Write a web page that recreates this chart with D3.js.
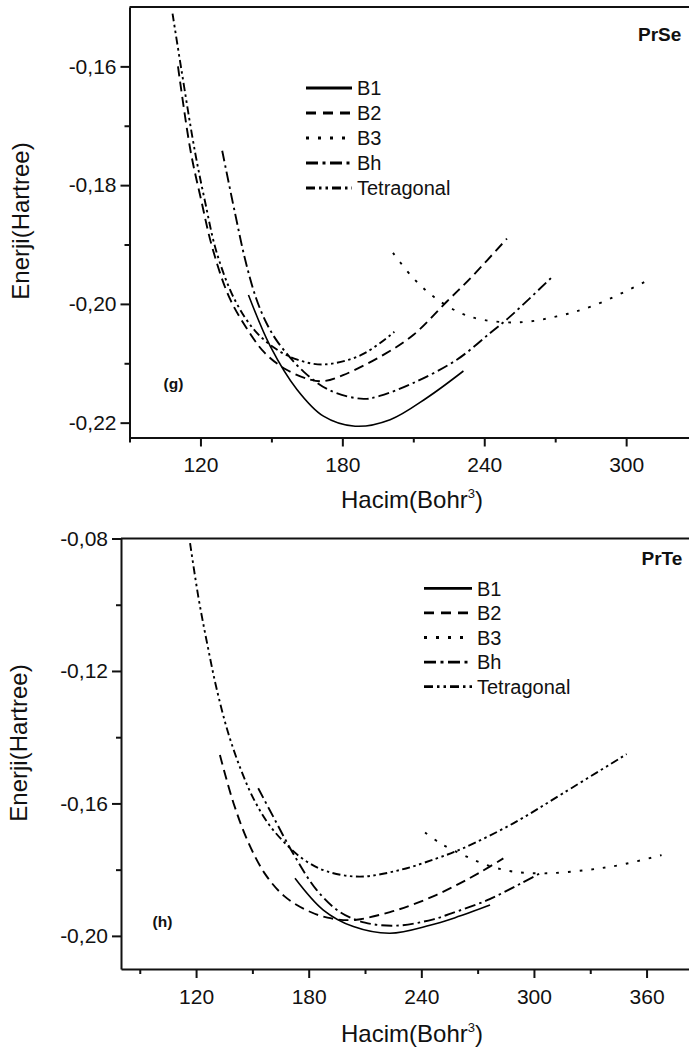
<!DOCTYPE html>
<html>
<head>
<meta charset="utf-8">
<script src="https://cdn.jsdelivr.net/npm/d3@7"></script>
<style>
  body { margin: 0; background: #fff; }
  svg { display: block; }
</style>
</head>
<body>
<svg id="chart" width="689" height="1055"></svg>
<script>
// series, same order in both panels
const seriesNames = ["B1", "B2", "B3", "Bh", "Tetragonal"];

// PrSe: [volume (Bohr^3), energy (Hartree)]
const prSeB1 = [[140.3, -0.1985], [149.5, -0.2071], [160.8, -0.2144], [172, -0.2189], [185.4, -0.2206],
  [200.2, -0.2195], [215.8, -0.2158], [231.2, -0.2113]];
const prSeB2 = [[110.5, -0.1600], [115.8, -0.1742], [120.3, -0.1825], [125, -0.1905], [132.3, -0.1990],
  [141, -0.2050], [147.3, -0.2083], [156, -0.2110], [166, -0.2127], [172, -0.2130], [180.3, -0.2120],
  [197.7, -0.2085], [210.1, -0.2052], [224.2, -0.1996], [234.1, -0.1957], [249.6, -0.1890]];
const prSeB3 = [[201.4, -0.1914], [210.1, -0.1957], [219.3, -0.1990], [229.8, -0.2015], [239.7, -0.2027],
  [255.2, -0.2031], [270.7, -0.2021], [286.2, -0.2003], [310.9, -0.1957]];
const prSeBh = [[129.2, -0.1742], [134.5, -0.1845], [139, -0.1927], [143.5, -0.1990], [148, -0.2033],
  [153, -0.2066], [163.6, -0.2114], [174.9, -0.2146], [189, -0.2160], [195.8, -0.2155], [210.1, -0.2133],
  [228.4, -0.2094], [242.5, -0.2049], [251, -0.2021], [268.6, -0.1955]];
const prSeTet = [[108.2, -0.1511], [112, -0.1607], [117.6, -0.1742], [121.8, -0.1825], [126.9, -0.1914],
  [134.5, -0.1993], [143, -0.2045], [152, -0.2076], [161, -0.2094], [171.9, -0.2102], [188, -0.2086],
  [202, -0.2047]];

const prSeXTicks = [120, 180, 240, 300];
const prSeXMinor = [90, 150, 210, 270, 330];
const prSeYTicks = [-0.22, -0.20, -0.18, -0.16];
const prSeYMinor = [-0.21, -0.19, -0.17];

// PrTe
const prTeB1 = [[172.7, -0.1826], [187.8, -0.1922], [203.8, -0.1972], [223.3, -0.1992], [244.6, -0.1968],
  [258, -0.1945], [276.6, -0.1907]];
const prTeB2 = [[132.7, -0.1454], [140, -0.1600], [148, -0.1720], [157, -0.1815], [167, -0.1880],
  [178, -0.1920], [190, -0.1945], [203.8, -0.1952], [223.3, -0.1928], [235.7, -0.1905], [248.2, -0.1876],
  [260, -0.1843], [271.3, -0.1808], [283.7, -0.1766]];
const prTeB3 = [[242, -0.1688], [250, -0.1720], [262.4, -0.1756], [274.8, -0.1786], [289, -0.1806],
  [306.8, -0.1811], [328.1, -0.1801], [345.8, -0.1786], [368, -0.1756]];
const prTeBh = [[153.1, -0.1554], [161.1, -0.1640], [171.8, -0.1752], [184.2, -0.1861], [196.7, -0.1928],
  [210, -0.1960], [226.9, -0.1969], [246.4, -0.1950], [256, -0.1932], [274.8, -0.1893], [292.6, -0.1843],
  [303.2, -0.1811]];
const prTeTet = [[116.8, -0.0814], [121.2, -0.0976], [126, -0.1120], [131, -0.1255], [137, -0.1385],
  [144, -0.1500], [151, -0.1590], [159, -0.1665], [168.3, -0.1725], [178, -0.1772], [189.6, -0.1805],
  [207.3, -0.1821], [228.6, -0.1801], [248.2, -0.1766], [262.4, -0.1735], [289, -0.1660], [315.6, -0.1569],
  [349.4, -0.1451]];

const prTeXTicks = [120, 180, 240, 300, 360];
const prTeXMinor = [90, 150, 210, 270, 330];
const prTeYTicks = [-0.20, -0.16, -0.12, -0.08];
const prTeYMinor = [-0.18, -0.14, -0.10];

// line styles
const curveDash = { B1: null, B2: "10,5.5", B3: "2.7,9", Bh: "11,4,2.5,4", Tetragonal: "8,3.5,2.5,3.5,2.5,3.5" };
const legendDash = { B1: null, B2: "10,7", B3: "3,9", Bh: "12,4.5,3,4.5", Tetragonal: "9,4,2.5,4,2.5,4" };

const font = "'Liberation Sans', Arial, Helvetica, sans-serif";
const svg = d3.select("#chart");

// comma decimals, plain hyphen
const fmt = d => d3.format(".2f")(d).replace(".", ",").replace("\u2212", "-");

const panels = [
  {
    id: "prse", name: "PrSe", tag: "(g)",
    series: [prSeB1, prSeB2, prSeB3, prSeBh, prSeTet],
    x: d3.scaleLinear().domain([90, 330]).range([129.5, 129.5 + 240 * 2.365]),
    y: d3.scaleLinear().domain([-0.2225, -0.15]).range([437.5, 7]),
    xTicks: prSeXTicks, xMinor: prSeXMinor, yTicks: prSeYTicks, yMinor: prSeYMinor,
    legend: { x0: 306, x1: 352, y0: 88, step: 25 },
    namePos: [638, 40.5], tagPos: [163.5, 388.5],
    yTitle: [29, 221], xTitle: [412, 508]
  },
  {
    id: "prte", name: "PrTe", tag: "(h)",
    series: [prTeB1, prTeB2, prTeB3, prTeBh, prTeTet],
    x: d3.scaleLinear().domain([80, 390]).range([121, 121 + 310 * 1.877]),
    y: d3.scaleLinear().domain([-0.21, -0.08]).range([969, 538.5]),
    xTicks: prTeXTicks, xMinor: prTeXMinor, yTicks: prTeYTicks, yMinor: prTeYMinor,
    legend: { x0: 424, x1: 472, y0: 588.3, step: 24.6 },
    namePos: [641.5, 565], tagPos: [152.5, 927],
    yTitle: [27, 743], xTitle: [412, 1042]
  }
];

panels.forEach(drawPanel);

function styleAxis(sel) {
  sel.attr("font-size", 21).attr("font-family", font);
  sel.selectAll("line, path").attr("stroke", "#111").attr("stroke-width", 2);
  sel.selectAll("text").attr("fill", "#111");
}

function drawPanel(p) {
  const g = svg.append("g");
  const [x0, x1] = p.x.range();
  const [yb, yt] = p.y.range();

  g.append("clipPath").attr("id", "clip-" + p.id)
    .append("rect").attr("x", x0).attr("y", yt).attr("width", x1 - x0).attr("height", yb - yt);

  const line = d3.line()
    .x(d => p.x(d[0]))
    .y(d => p.y(d[1]))
    .curve(d3.curveCatmullRom.alpha(0.5));

  const rows = seriesNames.map((name, i) => ({ name, values: p.series[i] }));

  g.append("g").attr("clip-path", `url(#clip-${p.id})`)
    .selectAll("path")
    .data(rows)
    .join("path")
    .attr("d", d => line(d.values))
    .attr("fill", "none")
    .attr("stroke", "#000")
    .attr("stroke-width", d => d.name === "B1" ? 1.6 : 1.9)
    .attr("stroke-dasharray", d => curveDash[d.name]);

  // minor ticks first, then the labelled ones
  g.append("g").attr("transform", `translate(${x0},0)`)
    .call(d3.axisLeft(p.y).tickValues(p.yMinor).tickSize(5).tickFormat(""))
    .call(styleAxis)
    .call(s => s.select(".domain").remove());
  g.append("g").attr("transform", `translate(${x0},0)`)
    .call(d3.axisLeft(p.y).tickValues(p.yTicks).tickSize(9).tickSizeOuter(0).tickPadding(4).tickFormat(fmt))
    .call(styleAxis);

  g.append("g").attr("transform", `translate(0,${yb})`)
    .call(d3.axisBottom(p.x).tickValues(p.xMinor).tickSize(5).tickFormat(""))
    .call(styleAxis)
    .call(s => s.select(".domain").remove());
  g.append("g").attr("transform", `translate(0,${yb})`)
    .call(d3.axisBottom(p.x).tickValues(p.xTicks).tickSize(9).tickSizeOuter(0).tickPadding(11).tickFormat(d3.format("d")))
    .call(styleAxis);

  // top frame line (right side runs off the picture)
  g.append("line")
    .attr("x1", x0).attr("x2", x1).attr("y1", yt).attr("y2", yt)
    .attr("stroke", "#111").attr("stroke-width", 2);

  // legend
  const lg = g.append("g").selectAll("g").data(seriesNames).join("g")
    .attr("transform", (d, i) => `translate(0,${p.legend.y0 + i * p.legend.step})`);
  lg.append("line")
    .attr("x1", p.legend.x0).attr("x2", p.legend.x1)
    .attr("stroke", "#000").attr("stroke-width", 2.8)
    .attr("stroke-dasharray", d => legendDash[d]);
  lg.append("text")
    .attr("x", p.legend.x1 + 5).attr("dy", "0.36em")
    .attr("font-family", font).attr("font-size", 20).attr("fill", "#111")
    .text(d => d);

  g.append("text")
    .attr("x", p.namePos[0]).attr("y", p.namePos[1])
    .attr("font-family", font).attr("font-size", 19).attr("font-weight", "bold").attr("fill", "#111")
    .text(p.name);
  g.append("text")
    .attr("x", p.tagPos[0]).attr("y", p.tagPos[1])
    .attr("font-family", font).attr("font-size", 15.5).attr("font-weight", "bold").attr("fill", "#111")
    .text(p.tag);

  // axis titles
  g.append("text")
    .attr("transform", `translate(${p.yTitle[0]},${p.yTitle[1]}) rotate(-90)`)
    .attr("text-anchor", "middle")
    .attr("font-family", font).attr("font-size", 24).attr("fill", "#111")
    .text("Enerji(Hartree)");
  const xt = g.append("text")
    .attr("x", p.xTitle[0]).attr("y", p.xTitle[1])
    .attr("text-anchor", "middle")
    .attr("font-family", font).attr("font-size", 24).attr("fill", "#111");
  xt.append("tspan").text("Hacim(Bohr");
  xt.append("tspan").attr("font-size", 13).attr("dy", -10).text("3");
  xt.append("tspan").attr("dy", 10).text(")");
}
</script>
</body>
</html>
